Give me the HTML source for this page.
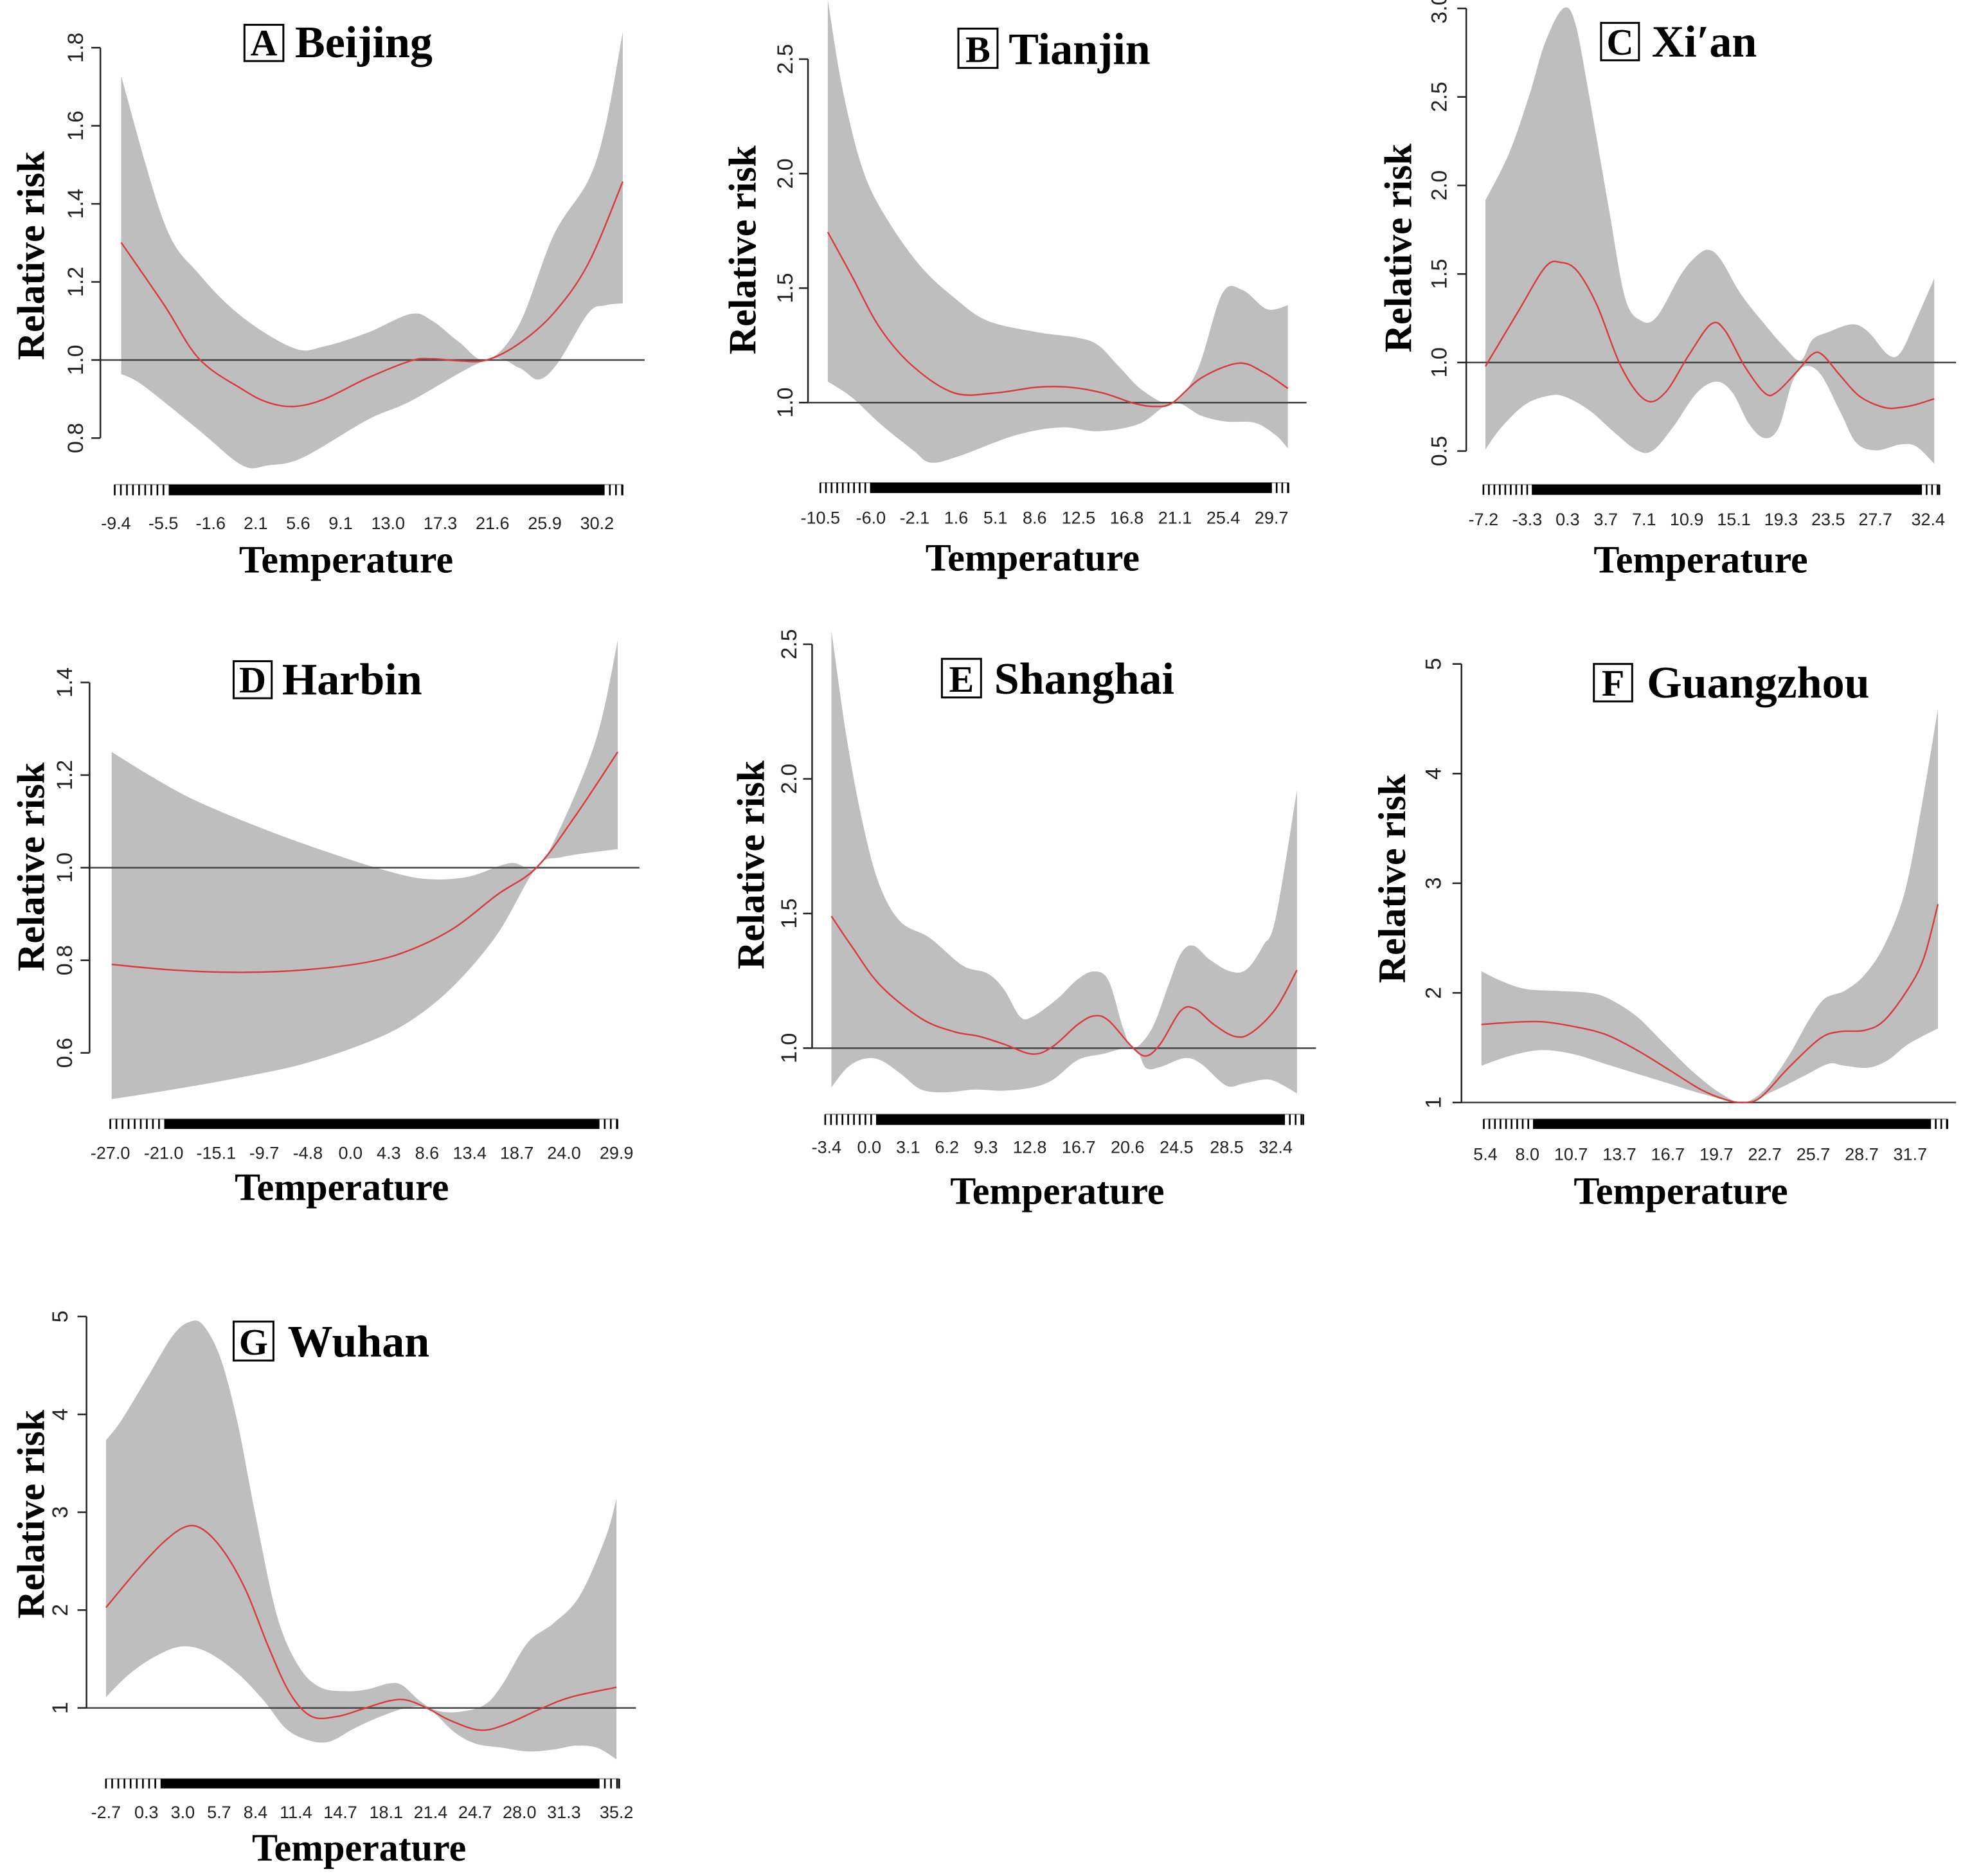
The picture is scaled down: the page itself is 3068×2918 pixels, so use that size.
<!DOCTYPE html>
<html><head><meta charset="utf-8">
<style>
html,body{margin:0;padding:0;background:#fff;}
svg{display:block;}
.tk{font-family:"Liberation Sans",sans-serif;font-size:27px;fill:#222;}
.yt{font-family:"Liberation Sans",sans-serif;font-size:34px;fill:#222;}
.ax{font-family:"Liberation Serif",serif;font-weight:bold;font-size:60px;fill:#000;}
.ti{font-family:"Liberation Serif",serif;font-weight:bold;font-size:70px;fill:#000;}
.tl{font-family:"Liberation Serif",serif;font-weight:bold;font-size:58px;fill:#000;}
</style></head>
<body>
<svg id="fig" width="3068" height="2918" viewBox="0 0 3068 2918" xmlns="http://www.w3.org/2000/svg"></svg>
<script>
// ===== Data (temperature in °C, relative risk) =====
// A Beijing
const tA=[-8.97,-5.41,-2.56,1.0,3.13,5.27,7.76,11.32,14.88,16.66,18.8,21.11,23.78,26.63,29.48,32.32];
const rrA=[1.301,1.14,1.003,0.925,0.891,0.881,0.9,0.954,0.998,1.003,0.998,1.0,1.042,1.12,1.247,1.457];
const tHiA=[-8.97,-5.41,-2.56,1.0,5.27,7.76,11.32,14.88,16.66,18.8,21.11,23.78,26.63,29.48,30.9,32.32];
const hiA=[1.727,1.35,1.22,1.11,1.03,1.035,1.07,1.118,1.10,1.047,1.0,1.09,1.32,1.46,1.60,1.84];
const tLoA=[-8.97,-7.19,-2.56,1.0,3.13,5.98,11.32,14.88,21.11,23.78,25.38,26.98,29.48,30.9,32.32];
const loA=[0.964,0.935,0.82,0.73,0.73,0.75,0.847,0.895,1.0,0.98,0.95,0.993,1.12,1.14,1.145];
const xTicksA=[-9.4,-5.5,-1.6,2.1,5.6,9.1,13.0,17.3,21.6,25.9,30.2];
const yTicksA=[0.8,1.0,1.2,1.4,1.6,1.8];
// B Tianjin
const tB=[-9.84,-7.75,-5.18,-2.24,1.43,5.1,8.77,11.7,14.65,17.58,19.4,20.9,23.46,26.76,28.96,31.16];
const rrB=[1.745,1.558,1.325,1.158,1.042,1.042,1.067,1.067,1.042,0.995,0.983,1.0,1.108,1.172,1.133,1.062];
const tHiB=[-9.84,-8.48,-6.65,-4.44,-1.51,1.43,4.37,8.77,12.44,14.28,16.1,18.3,20.9,23.1,25.3,27.1,29.3,31.16];
const hiB=[2.76,2.358,2.008,1.792,1.592,1.458,1.358,1.308,1.283,1.25,1.158,1.05,1.0,1.142,1.475,1.492,1.408,1.425];
const tLoB=[-9.84,-7.75,-5.18,-2.24,-0.67,1.9,6.94,10.98,14.28,17.95,20.9,23.46,25.66,28.2,30.06,31.16];
const loB=[1.092,1.025,0.908,0.792,0.738,0.767,0.858,0.892,0.875,0.908,1.0,0.942,0.917,0.912,0.858,0.8];
const xTicksB=[-10.5,-6.0,-2.1,1.6,5.1,8.6,12.5,16.8,21.1,25.4,29.7];
const yTicksB=[1.0,1.5,2.0,2.5];
// C Xi'an
const tC=[-7.02,-4.18,-1.69,-0.27,1.15,2.92,5.05,7.19,8.96,11.1,13.05,14.29,16.07,17.84,18.9,20.68,22.1,23.0,24.59,26.37,28.5,29.92,31.34,32.94];
const rrC=[0.978,1.28,1.539,1.565,1.517,1.323,0.978,0.789,0.828,1.043,1.216,1.183,0.978,0.828,0.832,0.946,1.047,1.043,0.925,0.806,0.746,0.746,0.763,0.795];
const tHiC=[-7.02,-4.89,-3.12,-1.69,-0.09,0.97,2.21,3.99,5.41,6.83,8.25,10.38,11.8,12.87,13.93,15.71,17.84,19.62,21.04,22.1,23.52,25.66,27.08,28.85,29.92,31.16,32.94];
const hiC=[1.916,2.185,2.509,2.81,3.0,2.918,2.509,1.862,1.366,1.237,1.259,1.496,1.603,1.636,1.582,1.388,1.216,1.086,1.011,1.129,1.172,1.216,1.172,1.043,1.054,1.216,1.474];
const tLoC=[-7.02,-5.6,-3.47,-1.34,0.08,2.21,4.34,6.48,7.9,9.67,11.8,13.58,15.0,16.43,17.84,19.1,20.32,21.4,22.81,24.59,26.0,27.79,29.92,31.34,32.94];
const loC=[0.509,0.634,0.763,0.813,0.806,0.731,0.612,0.504,0.504,0.634,0.828,0.892,0.828,0.655,0.573,0.634,0.892,0.978,0.935,0.72,0.547,0.504,0.537,0.526,0.429];
const xTicksC=[-7.2,-3.3,0.3,3.7,7.1,10.9,15.1,19.3,23.5,27.7,32.4];
const yTicksC=[0.5,1.0,1.5,2.0,2.5,3.0];
// D Harbin
const tD=[-26.85,-19.95,-12.65,-5.36,1.93,6.8,11.66,16.52,20.9,25.28,30.04];
const rrD=[0.791,0.779,0.774,0.779,0.796,0.823,0.87,0.942,1.0,1.112,1.25];
const tHiD=[-26.85,-22.38,-17.52,-10.22,-2.93,3.39,8.26,13.12,17.98,20.9,23.8,27.7,30.04];
const hiD=[1.25,1.197,1.146,1.087,1.036,0.997,0.976,0.98,1.01,1.0,1.095,1.283,1.491];
const tLoD=[-26.85,-19.95,-12.65,-5.36,1.93,6.8,11.66,16.52,20.9,23.8,30.04];
const loD=[0.5,0.521,0.546,0.576,0.623,0.67,0.746,0.857,1.0,1.023,1.04];
const xTicksD=[-27.0,-21.0,-15.1,-9.7,-4.8,0.0,4.3,8.6,13.4,18.7,24.0,29.9];
const yTicksD=[0.6,0.8,1.0,1.2,1.4];
// E Shanghai
const tE=[-3.01,-1.43,0.87,4.15,6.78,8.75,10.72,13.02,14.66,16.63,17.95,19.1,20.9,22.05,23.2,24.84,25.99,27.47,29.11,30.43,32.4,34.1];
const rrE=[1.49,1.381,1.234,1.11,1.061,1.044,1.015,0.978,1.007,1.088,1.12,1.102,1.007,0.971,1.015,1.139,1.146,1.088,1.044,1.056,1.146,1.29];
const tHiE=[-3.01,-1.76,-0.44,0.87,2.51,4.81,7.44,9.41,10.72,12.03,13.02,14.99,16.63,17.95,19.1,20.25,21.07,22.54,23.86,24.84,25.83,27.14,28.78,30.1,31.41,32.4,34.1];
const hiE=[2.55,2.142,1.82,1.6,1.469,1.41,1.307,1.278,1.22,1.117,1.117,1.183,1.256,1.285,1.249,1.073,1.0,1.073,1.234,1.351,1.381,1.329,1.285,1.293,1.381,1.483,1.959];
const tLoE=[-3.01,-1.76,-0.44,0.87,2.51,4.15,6.12,8.42,10.72,13.02,14.66,16.63,18.6,21.07,22.05,23.2,25.17,26.48,28.45,29.77,31.41,32.4,34.1];
const loE=[0.854,0.927,0.96,0.956,0.905,0.846,0.836,0.846,0.842,0.854,0.883,0.956,0.978,1.0,0.927,0.93,0.963,0.941,0.861,0.868,0.883,0.876,0.832];
const xTicksE=[-3.4,0.0,3.1,6.2,9.3,12.8,16.7,20.6,24.5,28.5,32.4];
const yTicksE=[1.0,1.5,2.0,2.5];
// F Guangzhou
const tF=[5.15,6.88,8.86,10.83,12.81,14.78,16.76,18.73,20.21,21.33,22.44,24.17,26.14,27.37,28.86,30.09,31.57,32.56,33.42];
const rrF=[1.712,1.73,1.737,1.694,1.622,1.478,1.299,1.119,1.029,1.0,1.047,1.317,1.586,1.647,1.658,1.748,2.036,2.324,2.809];
const tHiF=[5.15,6.39,7.87,9.85,11.82,13.06,14.78,16.51,18.24,19.97,21.33,22.69,24.17,25.41,26.39,27.63,28.86,30.09,31.33,32.31,33.42];
const hiF=[2.198,2.108,2.036,2.018,2.0,1.946,1.784,1.532,1.281,1.083,1.0,1.119,1.424,1.748,1.946,2.018,2.162,2.432,2.9,3.619,4.59];
const tLoF=[5.15,6.88,8.86,10.83,12.81,14.78,16.76,18.73,21.33,23.18,25.16,26.64,27.63,29.11,30.34,31.57,33.42];
const loF=[1.335,1.424,1.478,1.442,1.353,1.263,1.173,1.083,1.0,1.101,1.245,1.353,1.335,1.317,1.388,1.532,1.676];
const xTicksF=[5.4,8.0,10.7,13.7,16.7,19.7,22.7,25.7,28.7,31.7];
const yTicksF=[1,2,3,4,5];
// G Wuhan
const tG=[-2.7,-0.29,1.64,3.24,4.53,6.13,7.74,9.35,10.95,12.56,14.48,16.41,18.34,19.62,21.23,22.84,25.08,27.01,29.58,31.83,35.2];
const rrG=[2.026,2.423,2.702,2.853,2.821,2.583,2.185,1.628,1.151,0.913,0.913,0.992,1.072,1.08,0.992,0.873,0.773,0.833,0.992,1.111,1.211];
const tHiG=[-2.7,-1.58,0.35,2.28,3.56,4.53,5.81,7.1,8.38,9.99,11.59,13.2,15.13,16.73,18.34,19.3,20.59,21.87,23.48,25.4,26.69,28.61,30.54,32.47,34.39,35.2];
const hiG=[3.736,3.934,4.372,4.809,4.948,4.909,4.571,3.895,2.98,1.946,1.429,1.211,1.171,1.191,1.251,1.231,1.072,0.972,0.96,1.032,1.231,1.668,1.867,2.145,2.742,3.139];
const tLoG=[-2.7,-0.93,0.99,2.92,4.85,7.1,9.03,10.63,12.24,13.85,15.77,17.7,19.62,21.23,23.16,24.76,26.69,28.61,30.54,32.15,33.75,35.2];
const loG=[1.111,1.35,1.529,1.628,1.569,1.35,1.072,0.793,0.674,0.654,0.793,0.913,1.0,0.992,0.753,0.634,0.594,0.555,0.575,0.614,0.594,0.475];
const xTicksG=[-2.7,0.3,3.0,5.7,8.4,11.4,14.7,18.1,21.4,24.7,28.0,31.3,35.2];
const yTicksG=[1,2,3,4,5];

// ===== Layout (crop-frame coordinates, not data) =====
const panels=[
 {id:'a',letter:'A',city:'Beijing',fr:[0,0,1050,920],axX:232,yc:[0.8,1148,1.8,125],xc:[-9.4,268,30.2,1380],refEnd:1490,rug:[1270,1298],labY:1370,temp:[800,1500],rr:[75,670],tb:[565,65,655,160,682],
  t:tA,rr_:rrA,th:tHiA,hi:hiA,tl:tLoA,lo:loA,xt:xTicksA,yt:yTicksA,ytx:175,rugR:[-9.5,32.3],ytf:v=>v.toFixed(1)},
 {id:'b',letter:'B',city:'Tianjin',fr:[1100,0,1000,920],axX:245,yc:[1.0,1055,2.5,155],xc:[-10.5,275,29.7,1370],refEnd:1455,rug:[1265,1292],labY:1355,temp:[790,1495],rr:[90,655],tb:[610,75,705,178,732],
  t:tB,rr_:rrB,th:tHiB,hi:hiB,tl:tLoB,lo:loB,xt:xTicksB,yt:yTicksB,ytx:190,rugR:[-10.5,31.2],ytf:v=>v.toFixed(1)},
 {id:'c',letter:'C',city:'Xi\u2032an',fr:[2100,0,968,920],axX:292,yc:[0.5,1182,3.0,22],xc:[-7.2,335,32.4,1450],refEnd:1520,rug:[1270,1297],labY:1360,temp:[880,1500],rr:[125,650],tb:[630,60,725,158,757],
  t:tC,rr_:rrC,th:tHiC,hi:hiC,tl:tLoC,lo:loC,xt:xTicksC,yt:yTicksC,ytx:225,rugR:[-7.2,33.4],ytf:v=>v.toFixed(1)},
 {id:'d',letter:'D',city:'Harbin',fr:[0,950,1050,950],axX:207,yc:[0.6,1122,1.4,182],xc:[-27.0,255,29.9,1425],refEnd:1478,rug:[1290,1315],labY:1375,temp:[790,1495],rr:[75,650],tb:[540,128,628,222,652],
  t:tD,rr_:rrD,th:tHiD,hi:hiD,tl:tLoD,lo:loD,xt:xTicksD,yt:yTicksD,ytx:150,rugR:[-27.0,30.0],ytf:v=>v.toFixed(1)},
 {id:'e',letter:'E',city:'Shanghai',fr:[1100,950,1000,950],axX:255,yc:[1.0,1110,2.5,85],xc:[-3.4,290,32.4,1380],refEnd:1478,rug:[1278,1305],labY:1360,temp:[850,1505],rr:[110,645],tb:[570,122,665,220,697],
  t:tE,rr_:rrE,th:tHiE,hi:hiE,tl:tLoE,lo:loE,xt:xTicksE,yt:yTicksE,ytx:200,rugR:[-3.5,34.6],ytf:v=>v.toFixed(1)},
 {id:'f',letter:'F',city:'Guangzhou',fr:[2100,950,968,950],axX:280,yc:[1,1248,5,135],xc:[5.4,340,31.7,1405],refEnd:1520,rug:[1290,1315],labY:1378,temp:[830,1505],rr:[110,680],tb:[612,135,708,230,745],
  t:tF,rr_:rrF,th:tHiF,hi:hiF,tl:tLoF,lo:loF,xt:xTicksF,yt:yTicksF,ytx:210,rugR:[5.3,34.0],ytf:v=>String(v)},
 {id:'g',letter:'G',city:'Wuhan',fr:[0,1980,1050,938],axX:200,yc:[1,1118,5,112],xc:[-2.7,245,35.2,1425],refEnd:1470,rug:[1300,1325],labY:1385,temp:[830,1510],rr:[75,620],tb:[540,125,632,225,665],
  t:tG,rr_:rrG,th:tHiG,hi:hiG,tl:tLoG,lo:loG,xt:xTicksG,yt:yTicksG,ytx:140,rugR:[-2.7,35.4],ytf:v=>String(v)}
];

const NS='http://www.w3.org/2000/svg';
const svg=document.getElementById('fig');
function mk(tag,attrs,parent){const e=document.createElementNS(NS,tag);for(const k in attrs)e.setAttribute(k,attrs[k]);parent.appendChild(e);return e;}
// Catmull-Rom smoothing through points -> cubic bezier segments (no leading M)
function smooth(P){
  let s='';
  for(let i=0;i<P.length-1;i++){
    const p0=P[Math.max(i-1,0)],p1=P[i],p2=P[i+1],p3=P[Math.min(i+2,P.length-1)];
    const c1=[p1[0]+(p2[0]-p0[0])/6,p1[1]+(p2[1]-p0[1])/6];
    const c2=[p2[0]-(p3[0]-p1[0])/6,p2[1]-(p3[1]-p1[1])/6];
    s+='C'+c1[0].toFixed(1)+','+c1[1].toFixed(1)+' '+c2[0].toFixed(1)+','+c2[1].toFixed(1)+' '+p2[0].toFixed(1)+','+p2[1].toFixed(1);
  }
  return s;
}

panels.forEach(p=>{
  const [x0,y0,cw,ch]=p.fr;
  const X=zx=>x0+zx*cw/1560, Y=zy=>y0+zy*ch/1550;
  const xs=t=>X(p.xc[1]+(t-p.xc[0])*(p.xc[3]-p.xc[1])/(p.xc[2]-p.xc[0]));
  const ys=v=>Y(p.yc[1]+(v-p.yc[0])*(p.yc[3]-p.yc[1])/(p.yc[2]-p.yc[0]));
  const g=mk('g',{},svg);
  
  

  // confidence band
  const up=p.th.map((t,i)=>[xs(t),ys(p.hi[i])]);
  const dn=p.tl.map((t,i)=>[xs(t),ys(p.lo[i])]).reverse();
  let d='M'+up[0][0].toFixed(1)+','+up[0][1].toFixed(1)+smooth(up)+'L'+dn[0][0].toFixed(1)+','+dn[0][1].toFixed(1)+smooth(dn)+'Z';
  const band=mk('path',{d:d,fill:'#bebebe',stroke:'none'},g);
  
  

  // reference line at RR=1
  const ref=mk('line',{x1:X(p.axX),x2:X(p.refEnd),y1:ys(1),y2:ys(1),stroke:'#444',"stroke-width":2.5},g);
  
  

  // RR curve
  const P=p.t.map((t,i)=>[xs(t),ys(p.rr_[i])]);
  const line=mk('path',{d:'M'+P[0][0].toFixed(1)+','+P[0][1].toFixed(1)+smooth(P),fill:'none',stroke:'#d93a3a',"stroke-width":2.4,"stroke-linejoin":'round'},g);
  
  

  // y axis
  const ymin=p.yt[0], ymax=p.yt[p.yt.length-1];
  const yax=mk('line',{x1:X(p.axX),x2:X(p.axX),y1:ys(ymin),y2:ys(ymax),stroke:'#222',"stroke-width":2.5},g);
  
  
  p.yt.forEach(v=>{
    const tk=mk('line',{x1:X(p.axX)-14,x2:X(p.axX),y1:ys(v),y2:ys(v),stroke:'#222',"stroke-width":2.5},g);
    
    
    const tx=X(p.ytx), ty=ys(v);
    const lb=mk('text',{x:tx,y:ty,class:'yt',"text-anchor":'middle',"dominant-baseline":'central',transform:`rotate(-90 ${tx} ${ty})`},g);
    lb.textContent=p.ytf(v);
    
    
  });

  // rug
  const rTop=Y(p.rug[0]), rBot=Y(p.rug[1]);
  const rugLine=mk('line',{x1:xs(p.rugR[0]),x2:xs(p.rugR[1]),y1:rTop,y2:rTop,stroke:'#999',"stroke-width":2},g);
  
  
  const span=p.rugR[1]-p.rugR[0];
  let rd='';
  for(let t=p.rugR[0];t<=p.rugR[1]+1e-6;){
    const f=(t-p.rugR[0])/span;
    const sparse=f<0.1||f>0.96;
    rd+='M'+xs(t).toFixed(1)+','+rTop.toFixed(1)+'V'+rBot.toFixed(1);
    t+=sparse?span*0.012:span*0.003;
  }
  rd+='M'+xs(p.rugR[1]).toFixed(1)+','+rTop.toFixed(1)+'V'+rBot.toFixed(1);
  const rug=mk('path',{d:rd,stroke:'#000',"stroke-width":2.6,fill:'none'},g);
  
  

  // x tick labels
  p.xt.forEach(v=>{
    const lb=mk('text',{x:xs(v),y:Y(p.labY)+10,class:'tk',"text-anchor":'middle'},g);
    lb.textContent=v.toFixed(1);
    
    
  });

  // axis titles
  const xt=mk('text',{x:X(p.temp[0]),y:Y(p.temp[1]),class:'ax',"text-anchor":'middle'},g);
  xt.textContent='Temperature';
  
  
  const rx=X(p.rr[0])+18, ry=Y(p.rr[1]);
  const yt=mk('text',{x:rx,y:ry,class:'ax',"text-anchor":'middle',transform:`rotate(-90 ${rx} ${ry})`},g);
  yt.textContent='Relative risk';
  
  

  // panel title with boxed letter
  const [bx1,by1,bx2,by2,tx]=p.tb;
  const box=mk('rect',{x:X(bx1),y:Y(by1),width:X(bx2)-X(bx1),height:Y(by2)-Y(by1),fill:'none',stroke:'#000',"stroke-width":3},g);
  
  
  const lt=mk('text',{x:(X(bx1)+X(bx2))/2,y:Y(by2)-9,class:'tl',"text-anchor":'middle'},g);
  lt.textContent=p.letter;
  
  
  const ct=mk('text',{x:X(tx),y:Y(by2)-6,class:'ti'},g);
  ct.textContent=p.city;
  
  
});
</script>
</body></html>
